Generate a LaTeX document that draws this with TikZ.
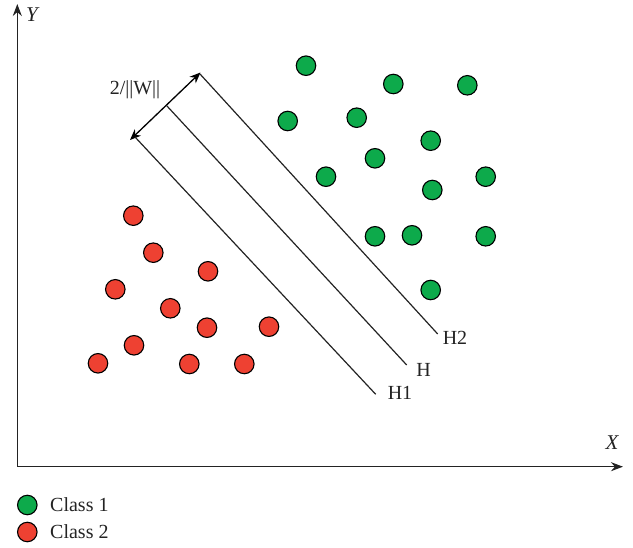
\documentclass[tikz,border=0pt]{standalone}
\usepackage{fontspec}
\setmainfont{Liberation Serif}
\usetikzlibrary{arrows.meta}
\definecolor{cgreen}{RGB}{13,170,75}
\definecolor{cred}{RGB}{238,65,50}
\definecolor{lgray}{RGB}{35,35,35}
\begin{document}
\begin{tikzpicture}[x=1pt,y=-1pt,
  dotg/.style={circle,draw=black,line width=1.1pt,fill=cgreen,minimum size=19.5pt,inner sep=0pt},
  dotr/.style={circle,draw=black,line width=1.1pt,fill=cred,minimum size=19.5pt,inner sep=0pt},
  hline/.style={draw=lgray,line width=1.2pt},
  tip/.style={Stealth[length=11pt,width=9pt]},
  axis/.style={draw=lgray,line width=1.5pt,-{Stealth[length=12pt,width=9pt]}},
  lbl/.style={inner sep=0pt,font=\fontsize{20}{22}\selectfont,text=lgray}]
\useasboundingbox (0,0) rectangle (633,548);
% axes
\coordinate (O) at (17.3,466.7);
\coordinate (Ytop) at (17.3,4);
\coordinate (Xend) at (623,466.7);
\draw[axis] (O) -- (Ytop);
\draw[axis] (O) -- (Xend);
\node[lbl,font=\fontsize{21}{22}\selectfont\itshape] (ylab) at (32,15) {Y};
\node[lbl,font=\fontsize{21}{22}\selectfont\itshape] (xlab) at (612,443) {X};
% margin arrow and hyperplanes
\coordinate (a1) at (130,140);
\coordinate (a2) at (200.5,72.5);
\draw[draw=black,line width=1.3pt,{Stealth[length=11pt,width=9pt]}-{Stealth[length=11pt,width=9pt]}] (a1) -- (a2);
\coordinate (h1s) at (135,137);
\coordinate (hs) at (166.7,105.7);
\coordinate (h2s) at (200,74);
\coordinate (h1e) at (375.7,394.3);
\coordinate (he) at (406.7,365);
\coordinate (h2e) at (437.7,334);
\draw[hline] (h1s) -- (h1e);
\draw[hline] (hs) -- (he);
\draw[hline] (h2s) -- (h2e);
\node[lbl] (w) at (135,90) {2/||W||};
\node[lbl] (lh1) at (400,393) {H1};
\node[lbl] (lh) at (423.5,370) {H};
\node[lbl] (lh2) at (455,338) {H2};
% class 1
\foreach \x/\y [count=\i] in {306/65.7,393.3/84,467.3/85.3,287.7/121,356.7/117.7,430.7/140.7,375/158.3,326/176.7,485.7/176.7,432.3/190,375/236.3,412/235.3,485.7/236.3,430.7/290}
  \node[dotg] (g\i) at (\x,\y) {};
% class 2
\foreach \x/\y [count=\i] in {133.3/215.7,153.3/252.7,208/271.3,115.3/289.3,170.3/308.3,207/327.7,269/326.7,134/345.3,98/363.3,189.3/364,244.3/364}
  \node[dotr] (r\i) at (\x,\y) {};
% legend
\node[dotg] (lg) at (27.3,505) {};
\node[dotr] (lr) at (27.3,532) {};
\node[lbl,anchor=west] (lgt) at (50,505) {Class 1};
\node[lbl,anchor=west] (lrt) at (50,532) {Class 2};
\end{tikzpicture}
\end{document}
